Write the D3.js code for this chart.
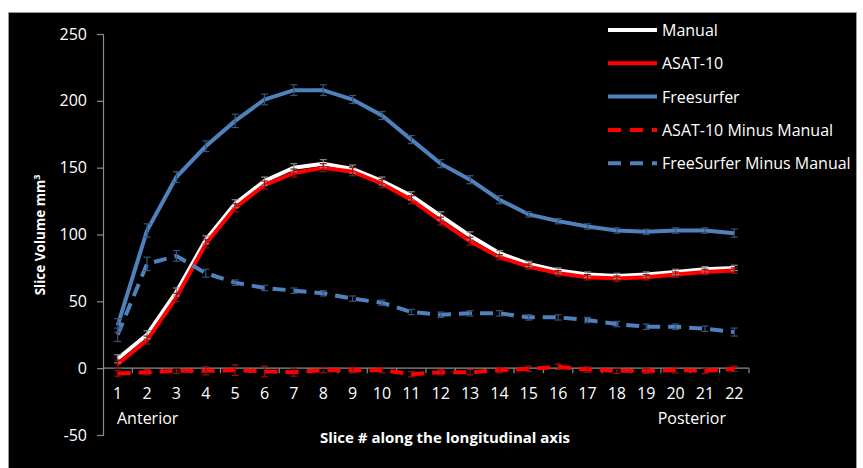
<!DOCTYPE html>
<html>
<head>
<meta charset="utf-8">
<script src="https://cdn.jsdelivr.net/npm/d3@7"></script>
<style>
  body { margin: 0; background: #fff; }
  svg text { font-family: "Open Sans", Lato, sans-serif; fill: #fff; }
</style>
</head>
<body>
<div id="chart"></div>
<script>
// data
var slices = d3.range(1, 23);
var manual = [7, 25, 57, 96, 123, 140, 150, 153, 149, 140, 129, 114, 99, 86, 78, 73, 70, 69, 70, 72, 74, 75];
var asat10 = [3, 21, 53, 93, 120, 137, 146, 150, 147, 138, 126, 110, 95, 83, 76, 71, 68, 67, 68, 70, 72, 73];
var freesurfer = [32, 103, 143, 166, 185, 201, 208, 208, 201, 189, 171, 153, 141, 126, 115, 110, 106, 103, 102, 103, 103, 101];
var asatMinus = [-4, -3, -2, -2, -1.5, -2.5, -3, -1.5, -1.5, -1.5, -4.5, -3, -3, -1.5, -0.5, 1, -1, -2, -2, -1.5, -2, -0.5];
var fsMinus = [25, 78, 84, 71, 64, 60, 58, 56, 52, 49, 42, 40, 41, 41, 38, 38, 36, 33, 31, 31, 29.5, 27];

// standard errors (approximate)
var manualErr = [3, 3, 3, 3, 3, 3, 3, 3, 3, 3, 3, 3, 3, 2, 2, 2, 2, 2, 2, 2, 2, 2];
var asatErr = [3, 3, 3, 3, 3, 3, 3, 3, 3, 3, 3, 3, 3, 2, 2, 2, 2, 2, 2, 2, 2, 2];
var fsErr = [5, 5, 4, 4, 5, 4, 4, 4, 3, 3, 3, 3, 3, 3, 2, 2, 2, 2, 2, 2, 2, 3];
var asatMinusErr = [2, 2, 2, 3, 4, 4, 3, 2, 2, 2, 2, 2, 2, 2, 2, 2, 2, 2, 2, 2, 2, 2];
var fsMinusErr = [5, 5, 4, 3, 2, 2, 2, 2, 2, 2, 2, 2, 2, 2, 2, 2, 2, 2, 2, 2, 2, 3];

var yTicks = [-50, 0, 50, 100, 150, 200, 250];

var series = [
  {name: "Manual", values: manual, err: manualErr, color: "#ffffff", errColor: "#8a8a8a", dash: null},
  {name: "ASAT-10", values: asat10, err: asatErr, color: "#ff0000", errColor: "#9a1010", dash: null},
  {name: "Freesurfer", values: freesurfer, err: fsErr, color: "#4f81bd", errColor: "#3a5377", dash: null},
  {name: "ASAT-10 Minus Manual", values: asatMinus, err: asatMinusErr, color: "#ff0000", errColor: "#9a1010", dash: "13,8"},
  {name: "FreeSurfer Minus Manual", values: fsMinus, err: fsMinusErr, color: "#4f81bd", errColor: "#3a5377", dash: "13,8"}
];

var W = 863, H = 468;
var svg = d3.select("#chart").append("svg")
    .attr("width", W)
    .attr("height", H);

// black panel
svg.append("rect")
    .attr("x", 8.5).attr("y", 12.5)
    .attr("width", 848).attr("height", 470)
    .attr("fill", "#000")
    .attr("stroke", "#9a9a9a");

var x = d3.scaleBand()
    .domain(slices)
    .range([103, 749]);

var y = d3.scaleLinear()
    .domain([-50, 250])
    .range([435, 34]);

// y axis
var yAxis = svg.append("g")
    .attr("transform", "translate(103,0)")
    .call(d3.axisLeft(y).tickValues(yTicks).tickSize(6).tickPadding(10)
      .tickFormat(function(d) { return String(d); }));
yAxis.select(".domain").attr("stroke", "#8c8c8c").attr("stroke-width", 1.2);
yAxis.selectAll(".tick line").attr("stroke", "#8c8c8c").attr("stroke-width", 1.2);
yAxis.selectAll(".tick text")
    .attr("fill", "#fff")
    .style("font-family", "'Open Sans', sans-serif")
    .style("font-size", "16px");

// x axis at zero, ticks between categories
var xAxisG = svg.append("g")
    .attr("transform", "translate(0," + y(0) + ")");
xAxisG.append("line")
    .attr("x1", 103).attr("x2", 749)
    .attr("stroke", "#8c8c8c").attr("stroke-width", 1.2);
xAxisG.selectAll(".xt")
    .data(slices)
  .enter().append("line")
    .attr("x1", function(d) { return x(d) + x.bandwidth(); })
    .attr("x2", function(d) { return x(d) + x.bandwidth(); })
    .attr("y1", 0).attr("y2", 5)
    .attr("stroke", "#8c8c8c").attr("stroke-width", 1.2);

svg.selectAll(".xlab")
    .data(slices)
  .enter().append("text")
    .attr("x", function(d) { return x(d) + x.bandwidth() / 2; })
    .attr("y", 399)
    .attr("text-anchor", "middle")
    .style("font-size", "16px")
    .text(function(d) { return d; });

svg.append("text")
    .attr("x", 117).attr("y", 424)
    .style("font-size", "16px")
    .text("Anterior");
svg.append("text")
    .attr("x", 726).attr("y", 424)
    .attr("text-anchor", "end")
    .style("font-size", "16px")
    .text("Posterior");

// axis titles
svg.append("text")
    .attr("x", 445).attr("y", 443)
    .attr("text-anchor", "middle")
    .style("font-size", "15px")
    .style("font-weight", "bold")
    .text("Slice # along the longitudinal axis");

var yt = svg.append("text")
    .attr("transform", "translate(45,235) rotate(-90)")
    .attr("text-anchor", "middle")
    .style("font-size", "13.5px")
    .style("font-weight", "bold");
yt.append("tspan").text("Slice Volume mm");
yt.append("tspan").attr("dy", -5).style("font-size", "9px").text("3");

// lines
var line = d3.line()
    .x(function(d, i) { return x(slices[i]) + x.bandwidth() / 2; })
    .y(function(d) { return y(d); });

series.forEach(function(s) {
  svg.append("path")
      .datum(s.values)
      .attr("fill", "none")
      .attr("stroke", s.color)
      .attr("stroke-width", 4)
      .attr("stroke-dasharray", s.dash)
      .attr("d", line);
});

// error bars
series.forEach(function(s) {
  var g = svg.append("g")
      .attr("stroke", s.errColor)
      .attr("stroke-width", 1.2);
  s.values.forEach(function(v, i) {
    var cx = x(slices[i]) + x.bandwidth() / 2;
    var y1 = y(v + s.err[i]), y2 = y(v - s.err[i]);
    g.append("line").attr("x1", cx).attr("x2", cx).attr("y1", y1).attr("y2", y2);
    g.append("line").attr("x1", cx - 3.5).attr("x2", cx + 3.5).attr("y1", y1).attr("y2", y1);
    g.append("line").attr("x1", cx - 3.5).attr("x2", cx + 3.5).attr("y1", y2).attr("y2", y2);
  });
});

// legend
var legend = svg.append("g");
series.forEach(function(s, i) {
  var ly = 30 + i * 33.3;
  legend.append("line")
      .attr("x1", 608).attr("x2", 657)
      .attr("y1", ly).attr("y2", ly)
      .attr("stroke", s.color)
      .attr("stroke-width", 4)
      .attr("stroke-dasharray", s.dash ? "13,9" : null);
  legend.append("text")
      .attr("x", 662).attr("y", ly + 6)
      .style("font-size", "16px")
      .text(s.name);
});
</script>
</body>
</html>
